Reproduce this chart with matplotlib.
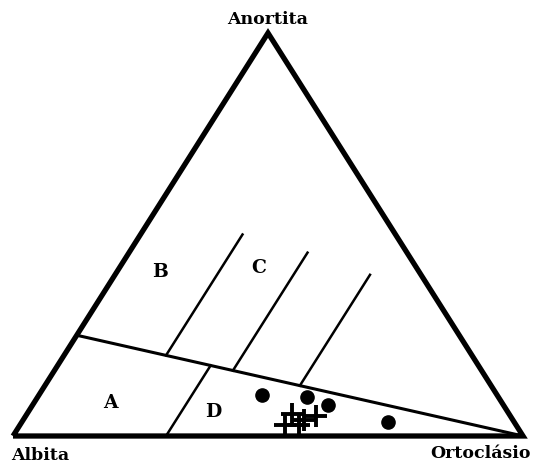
import matplotlib
matplotlib.use("Agg")
import matplotlib.pyplot as plt
import numpy as np

# Ternary data (fractions): An = anortita, Or = ortoclásio, Ab = 1 - An - Or
vertex_labels = ["Albita", "Anortita", "Ortoclásio"]
field_labels = ["A", "B", "C", "D"]
field_pos_an = [0.082, 0.408, 0.417, 0.06]
field_pos_or = [0.15, 0.085, 0.274, 0.362]

# boundary from Ab-An side to Or vertex
boundary_an_left = 0.25
# constant-Or lines in upper field (from boundary up to given An)
upper_or = [0.20, 0.35, 0.50]
upper_an_top = [0.50, 0.455, 0.40]
# constant-Or line in lower field
lower_or = 0.30

circle_an = [0.102, 0.097, 0.077, 0.035]
circle_or = [0.437, 0.528, 0.579, 0.718]
plus_an = [0.027, 0.055, 0.027, 0.040, 0.050]
plus_or = [0.520, 0.520, 0.547, 0.551, 0.569]


def xy(an, orr):
    an = np.asarray(an, float)
    orr = np.asarray(orr, float)
    return orr + 0.5 * an, an


W, H = 533, 466
fig = plt.figure(figsize=(W / 100, H / 100), dpi=100)
ax = fig.add_axes([0, 0, 1, 1])
# pixel mapping: Ab vertex at (13,436), Or at (523,436), An at (268,33)
sx, sy = 510.0, 403.0
ax.set_xlim(-13 / sx, (W - 13) / sx)
ax.set_ylim((436 - H) / sy, 436 / sy)
ax.axis("off")

black = "black"
# triangle
tx, ty = xy([0, 1, 0, 0], [0, 0, 1, 0])
ax.plot(tx, ty, color=black, lw=3.8, solid_joinstyle="miter", solid_capstyle="butt")

# boundary line
a = boundary_an_left
bx, by = xy([a, 0], [0, 1])
ax.plot(bx, by, color=black, lw=2.2)

# upper lines
for o, at in zip(upper_or, upper_an_top):
    an_b = a * (1 - o)
    lx, ly = xy([an_b, at], [o, o])
    ax.plot(lx, ly, color=black, lw=1.8)

# lower line
lx, ly = xy([0, a * (1 - lower_or)], [lower_or, lower_or])
ax.plot(lx, ly, color=black, lw=1.8)

# data
cx, cy = xy(circle_an, circle_or)
ax.plot(cx, cy, "o", color=black, ms=9.5, ls="none")
px, py = xy(plus_an, plus_or)
ax.plot(px, py, "+", color=black, ms=16, mew=2.8, ls="none")

font = dict(family="DejaVu Serif", weight="bold", color=black)
for lab, an, orr in zip(field_labels, field_pos_an, field_pos_or):
    fx, fy = xy(an, orr)
    ax.text(fx, fy, lab, ha="center", va="center", fontsize=13.5, **font)

# vertex labels
ax.text((268 - 13) / sx, (436 - 19) / sy, vertex_labels[1],
        ha="center", va="center", fontsize=12.5, **font)
ax.text((40 - 13) / sx, (436 - 455) / sy, vertex_labels[0],
        ha="center", va="center", fontsize=12.5, **font)
ax.text((480 - 13) / sx, (436 - 454) / sy, vertex_labels[2],
        ha="center", va="center", fontsize=12.5, **font)

fig.savefig("out.png", dpi=100)
